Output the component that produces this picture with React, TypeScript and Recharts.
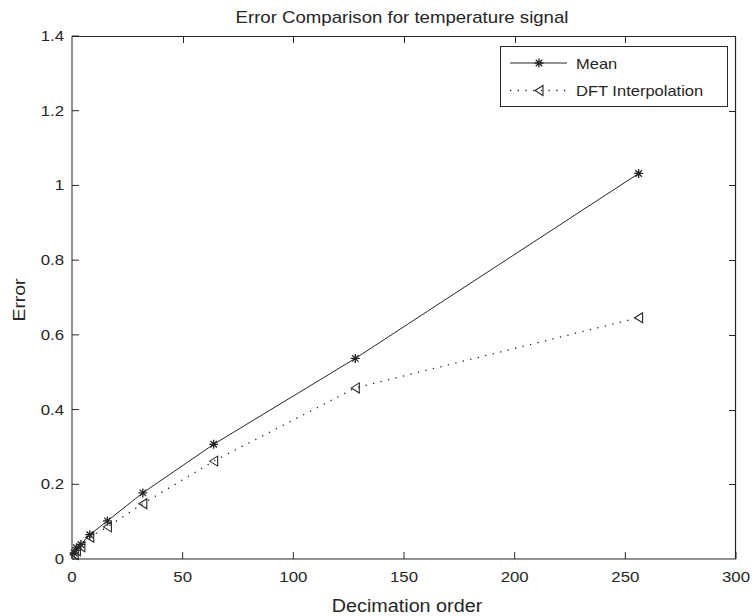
import React from 'react';
import { LineChart, Line, XAxis, YAxis } from 'recharts';

const decimation = [1, 2, 4, 8, 16, 32, 64, 128, 256];
const meanErr = [0.016, 0.03, 0.039, 0.065, 0.102, 0.177, 0.307, 0.537, 1.032];
const dftErr = [0.012, 0.022, 0.033, 0.058, 0.086, 0.148, 0.262, 0.458, 0.646];
const xTicks = [0, 50, 100, 150, 200, 250, 300];
const yTicks = [0, 0.2, 0.4, 0.6, 0.8, 1, 1.2, 1.4];
const X_MAX = 300;
const Y_MAX = 1.4;

const data = decimation.map((d, i) => ({ d, mean: meanErr[i], dft: dftErr[i] }));

const INK = '#262626';
const FONT = '"Liberation Sans", Arial, Helvetica, sans-serif';

// plot box (layout)
const BOX = { left: 72, top: 36, right: 736, bottom: 559 };
const M = { top: BOX.top, right: 753 - BOX.right, bottom: 616 - BOX.bottom - 40, left: BOX.left - 60 };
const fx = (t: number) => BOX.left + (t / X_MAX) * (BOX.right - BOX.left);
const fy = (v: number) => BOX.bottom - (v / Y_MAX) * (BOX.bottom - BOX.top);

function SText(props: any) {
  const { x, y, size, sx, anchor, rotate, children } = props;
  const t = `translate(${x} ${y})${rotate ? ` rotate(${rotate})` : ''} scale(${sx} 1)`;
  return (
    <text transform={t} textAnchor={anchor} fontSize={size} fontFamily={FONT} fill={INK}>
      {children}
    </text>
  );
}

function Star(props: any) {
  const { cx, cy } = props;
  const r = 4.5;
  const d = r * 0.72;
  return (
    <path
      d={`M${cx - r},${cy}H${cx + r}M${cx},${cy - r}V${cy + r}M${cx - d},${cy - d}L${cx + d},${cy + d}M${cx - d},${cy + d}L${cx + d},${cy - d}`}
      stroke={INK}
      strokeWidth={1.3}
      fill="none"
    />
  );
}

function Tri(props: any) {
  const { cx, cy } = props;
  return (
    <path
      d={`M${cx - 4},${cy}L${cx + 4},${cy - 5}L${cx + 4},${cy + 5}Z`}
      stroke={INK}
      strokeWidth={1.1}
      fill="none"
    />
  );
}

const BottomTick = (p: any) => (
  <g>
    <line x1={p.x} x2={p.x} y1={p.y} y2={p.y - 7} stroke={INK} />
    <SText x={p.x} y={p.y + 23} size={14} sx={1.2} anchor="middle">
      {String(p.payload.value)}
    </SText>
  </g>
);
const LeftTick = (p: any) => (
  <g>
    <line x1={p.x} x2={p.x + 7} y1={p.y} y2={p.y} stroke={INK} />
    <SText x={p.x - 8} y={p.y + 5} size={14} sx={1.2} anchor="end">
      {String(p.payload.value)}
    </SText>
  </g>
);

export default function App() {
  const frameTop = BOX.top + 0.5;
  const frameRight = BOX.right - 0.5;
  return (
    <div style={{ position: 'absolute', left: 0, top: 0, width: 753, height: 616, background: '#fff' }}>
      <div style={{ position: 'absolute', left: 0, top: 0 }}>
        <LineChart width={753} height={616} data={data} margin={M}>
          <XAxis
            dataKey="d"
            type="number"
            domain={[0, X_MAX]}
            ticks={xTicks}
            height={40}
            tickSize={0}
            tickMargin={0}
            tickLine={false}
            axisLine={{ stroke: INK }}
            tick={BottomTick}
            interval={0}
          />
          <YAxis
            type="number"
            domain={[0, Y_MAX]}
            ticks={yTicks}
            width={60}
            tickSize={0}
            tickMargin={0}
            tickLine={false}
            axisLine={{ stroke: INK }}
            tick={LeftTick}
            interval={0}
          />
          <Line
            dataKey="mean"
            type="linear"
            stroke={INK}
            strokeWidth={1}
            isAnimationActive={false}
            activeDot={false}
            dot={(p: any) => <Star key={`m${p.index}`} cx={p.cx} cy={p.cy} />}
          />
          <Line
            dataKey="dft"
            type="linear"
            stroke={INK}
            strokeWidth={1.3}
            strokeDasharray="1.3 6.4"
            isAnimationActive={false}
            activeDot={false}
            dot={(p: any) => <Tri key={`t${p.index}`} cx={p.cx} cy={p.cy} />}
          />
        </LineChart>
      </div>
      <svg
        width={753}
        height={616}
        style={{ position: 'absolute', left: 0, top: 0, pointerEvents: 'none' }}
      >
        <SText x={402} y={23} size={17} sx={1.095} anchor="middle">
          Error Comparison for temperature signal
        </SText>
        <SText x={407} y={612} size={17.5} sx={1.13} anchor="middle">
          Decimation order
        </SText>
        <SText x={25} y={300} size={17} sx={1.14} anchor="middle" rotate={-90}>
          Error
        </SText>
        <path
          d={`M${BOX.left},${frameTop}H${frameRight}V${BOX.bottom}`}
          stroke={INK}
          strokeWidth={1.2}
          fill="none"
        />
        {xTicks.slice(1, -1).map((t) => (
          <path
            key={`tt${t}`}
            d={`M${Math.round(fx(t)) + 0.5},${BOX.top}V${BOX.top + 7}`}
            stroke={INK}
            strokeWidth={1}
            fill="none"
          />
        ))}
        {yTicks.slice(1, -1).map((v) => (
          <path
            key={`rt${v}`}
            d={`M${BOX.right},${Math.round(fy(v)) + 0.5}H${BOX.right - 7}`}
            stroke={INK}
            strokeWidth={1}
            fill="none"
          />
        ))}
        <rect x={500.5} y={46.5} width={227} height={60} fill="#fff" stroke={INK} />
        <line x1={510} x2={567} y1={63} y2={63} stroke={INK} />
        <Star cx={539} cy={63} />
        <SText x={576} y={69} size={14} sx={1.18} anchor="start">
          Mean
        </SText>
        <line x1={510} x2={567} y1={90.5} y2={90.5} stroke={INK} strokeWidth={1.3} strokeDasharray="1.3 6.4" />
        <Tri cx={539} cy={90.5} />
        <SText x={576} y={96} size={14} sx={1.18} anchor="start">
          DFT Interpolation
        </SText>
      </svg>
    </div>
  );
}
